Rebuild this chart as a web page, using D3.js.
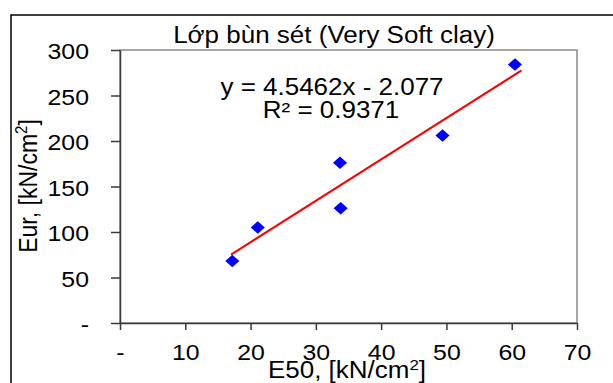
<!DOCTYPE html>
<html>
<head>
  <script src="https://d3js.org/d3.v7.min.js"></script>
  <style type="text/css">
    body { margin: 0; background-color: #ffffff; }
    text { font-family: 'Liberation Sans', Arial, sans-serif; fill: #000000; }
  </style>
</head>
<body>
<div id="chart"></div>
<script>
  // data
  var e50 = [17.2, 21.1, 33.7, 33.8, 49.4, 60.5];
  var eur = [68, 105, 176, 126, 206, 284];
  var xTicks = [0, 10, 20, 30, 40, 50, 60, 70];
  var yTicks = [0, 50, 100, 150, 200, 250, 300];
  var slope = 4.5462, intercept = -2.077;
  var trendRange = [17, 61.5];
  var titleText = "Lớp bùn sét (Very Soft clay)";
  var eqText = "y = 4.5462x - 2.077";
  var r2Text = "R² = 0.9371";

  var stretch = 1.13; // the picture is a bit wider than it is tall
  var svg = d3.select("#chart").append("svg").attr("width", 613).attr("height", 383);

  var x = d3.scaleLinear().domain([0, 70]).range([120, 577]);
  var y = d3.scaleLinear().domain([0, 300]).range([323, 50]);
  var fmt = function (d) { return d === 0 ? "-" : d; };

  // outer frame, runs off the right and bottom
  svg.append("rect").attr("x", 11).attr("y", 15).attr("width", 700).attr("height", 500)
    .attr("fill", "none").attr("stroke", "#000").attr("stroke-width", 1.5);

  // plot area border
  svg.append("rect").attr("x", x(0)).attr("y", y(300)).attr("width", x(70) - x(0)).attr("height", y(0) - y(300))
    .attr("fill", "none").attr("stroke", "#8a8a8a").attr("stroke-width", 1.5);

  // axes
  var gy = svg.append("g").attr("transform", "translate(" + x(0) + ",0)")
    .call(d3.axisLeft(y).tickValues(yTicks).tickSize(9).tickSizeOuter(0).tickFormat(fmt));
  gy.selectAll("text").attr("x", null).attr("dy", "0.39em").style("font-size", "22px")
    .attr("transform", "translate(-31,0) scale(" + stretch + ",1)");

  var gx = svg.append("g").attr("transform", "translate(0," + y(0) + ")")
    .call(d3.axisBottom(x).tickValues(xTicks).tickSize(7).tickSizeOuter(0).tickFormat(fmt));
  gx.selectAll("text").attr("y", null).attr("dy", null).style("font-size", "22px")
    .attr("transform", "translate(0,36.5) scale(" + stretch + ",1)");

  svg.selectAll(".domain, .tick line").attr("stroke", "#3a3a3a").attr("stroke-width", 1.5);

  // trend line
  svg.append("line")
    .attr("x1", x(trendRange[0])).attr("y1", y(slope * trendRange[0] + intercept))
    .attr("x2", x(trendRange[1])).attr("y2", y(slope * trendRange[1] + intercept))
    .attr("stroke", "#ff0000").attr("stroke-width", 2);

  // points
  var diamond = d3.symbol().type(d3.symbolSquare).size(78);
  svg.selectAll(".pt").data(e50).enter().append("path").attr("class", "pt")
    .attr("d", diamond)
    .attr("transform", function (d, i) {
      return "translate(" + x(d) + "," + y(eur[i]) + ") scale(" + stretch + ",1) rotate(45)";
    })
    .attr("fill", "#0000ff");

  // texts
  function label(tx, ty, str, size) {
    return svg.append("text").attr("text-anchor", "middle").style("font-size", size + "px")
      .attr("transform", "translate(" + tx + "," + ty + ") scale(" + stretch + ",1)")
      .text(str);
  }
  label(334, 43, titleText, 23);
  label(332, 95, eqText, 23);
  label(331, 118, r2Text, 23);

  var xt = svg.append("text").attr("text-anchor", "middle").style("font-size", "23px")
    .attr("transform", "translate(347,378) scale(" + stretch + ",1)");
  xt.append("tspan").text("E50, [kN/cm");
  xt.append("tspan").attr("dy", -8).style("font-size", "15px").text("2");
  xt.append("tspan").attr("dy", 8).text("]");

  var yt = svg.append("text").attr("text-anchor", "middle").style("font-size", "23px")
    .attr("transform", "translate(36.5,186) rotate(-90) scale(1," + stretch + ")");
  yt.append("tspan").text("Eur, [kN/cm");
  yt.append("tspan").attr("dy", -8).style("font-size", "15px").text("2");
  yt.append("tspan").attr("dy", 8).text("]");
</script>
</body>
</html>
